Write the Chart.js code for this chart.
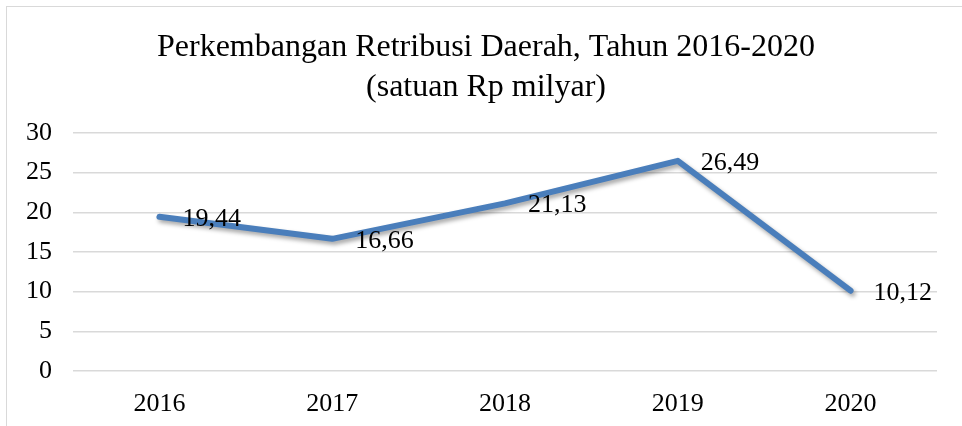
<!DOCTYPE html>
<html>
<head>
<meta charset="utf-8">
<script src="https://cdn.jsdelivr.net/npm/chart.js@4"></script>
<style>
    body { margin: 0; background: #fff; overflow: hidden; }
    #wrap { position: absolute; left: 0; top: 0; width: 962px; height: 426px; overflow: hidden; }
    #frame { position: absolute; left: 6px; top: 6px; width: 1000px; height: 500px;
             border-top: 1.5px solid #d9d9d9; border-left: 1.5px solid #d9d9d9; }
    canvas { position: absolute; left: 0; top: 0; }
</style>
</head>
<body>
<div id="wrap">
    <div id="frame"></div>
    <canvas id="chart" width="962" height="426"></canvas>
</div>
<script>
// data
const years = ["2016", "2017", "2018", "2019", "2020"];
const retribusi = [19.44, 16.66, 21.13, 26.49, 10.12];
const titleLines = ["Perkembangan Retribusi Daerah, Tahun 2016-2020", "(satuan Rp milyar)"];

const serif = "'Liberation Serif', 'Times New Roman', serif";

// label angka di kanan titik (format koma)
const valueLabels = {
    id: "valueLabels",
    afterDatasetsDraw(chart) {
        const ctx = chart.ctx;
        const meta = chart.getDatasetMeta(0);
        ctx.save();
        ctx.font = "26px " + serif;
        ctx.fillStyle = "#000";
        ctx.textAlign = "left";
        ctx.textBaseline = "middle";
        meta.data.forEach((pt, i) => {
            let txt = retribusi[i].toFixed(2).replace(".", ",");
            ctx.fillText(txt, pt.x + 23, pt.y + 2);
        });
        ctx.restore();
    }
};

// bayangan tipis di bawah garis
const lineShadow = {
    id: "lineShadow",
    beforeDatasetsDraw(chart) {
        const ctx = chart.ctx;
        ctx.save();
        ctx.shadowColor = "rgba(0,0,0,0.35)";
        ctx.shadowBlur = 4;
        ctx.shadowOffsetX = 2;
        ctx.shadowOffsetY = 3;
    },
    afterDatasetsDraw(chart) {
        chart.ctx.restore();
    }
};

new Chart(document.getElementById("chart"), {
    type: "line",
    data: {
        labels: years,
        datasets: [{
            data: retribusi,
            borderColor: "#4a7ebb",
            borderWidth: 6,
            borderCapStyle: "round",
            borderJoinStyle: "round",
            pointRadius: 0,
            tension: 0
        }]
    },
    options: {
        responsive: false,
        animation: false,
        layout: { padding: { left: 10, right: 0, top: 0, bottom: 0 } },
        plugins: {
            legend: { display: false },
            tooltip: { enabled: false },
            title: {
                display: true,
                text: titleLines,
                color: "#000",
                font: { family: serif, size: 32, weight: "normal", lineHeight: 40 / 32 },
                padding: { top: 28, bottom: 25 }
            }
        },
        scales: {
            x: {
                offset: true,
                grid: { display: false, drawTicks: false },
                border: { display: false },
                ticks: { color: "#000", font: { family: serif, size: 26 }, padding: 18 },
                afterFit(scale) { scale.height = 55; }
            },
            y: {
                min: 0,
                max: 30,
                ticks: { stepSize: 5, color: "#000", font: { family: serif, size: 26 }, padding: 21 },
                grid: { color: "#d9d9d9", lineWidth: 1.5, drawTicks: false },
                border: { display: false },
                afterFit(scale) { scale.width = 63; }
            },
            // ruang kosong di kanan area plot
            yRight: {
                position: "right",
                min: 0,
                max: 30,
                grid: { display: false, drawTicks: false },
                border: { display: false },
                ticks: { display: false },
                afterFit(scale) { scale.width = 25; }
            }
        }
    },
    plugins: [lineShadow, valueLabels]
});
</script>
</body>
</html>
